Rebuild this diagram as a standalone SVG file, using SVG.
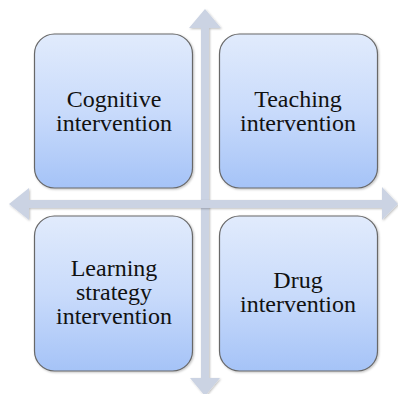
<svg xmlns="http://www.w3.org/2000/svg" width="398" height="394" viewBox="0 0 398 394">
<defs>
<linearGradient id="g" x1="0" y1="0" x2="0" y2="1">
<stop offset="0" stop-color="#e1ebfc"/>
<stop offset="0.5" stop-color="#c9dbfb"/>
<stop offset="1" stop-color="#a5c3f7"/>
</linearGradient>
<filter id="sh" x="-10%" y="-10%" width="120%" height="120%">
<feDropShadow dx="1" dy="1" stdDeviation="1.2" flood-color="#000" flood-opacity="0.25"/>
</filter>
</defs>
<style>
.box{fill:url(#g);stroke:#686868;stroke-width:1.2;filter:url(#sh)}
.arr{fill:#cbd3e3;filter:url(#sh)}
.t{font-family:"Liberation Serif","Times New Roman","DejaVu Serif",Tinos,serif;font-size:24px;fill:#111;text-anchor:middle}
</style>
<rect width="398" height="394" fill="#fff"/>
<g id="connectors">
<polygon class="arr" points="205,9 221,28 209,28 209,378 220,378 205,396 190,378 201,378 201,28 189,28"/>
<polygon class="arr" points="9,204 29,188 29,200 382,200 382,187 398,204 382,220 382,208 29,208 29,220"/>
</g>
<g id="cognitive">
<rect class="box" x="34.5" y="34" width="158" height="154" rx="20"/>
<text class="t" x="114" y="107">Cognitive</text>
<text class="t" x="114" y="131">intervention</text>
</g>
<g id="teaching">
<rect class="box" x="219.5" y="34" width="158" height="154" rx="20"/>
<text class="t" x="298" y="107">Teaching</text>
<text class="t" x="298" y="131">intervention</text>
</g>
<g id="learning">
<rect class="box" x="34.5" y="216" width="158" height="155" rx="20"/>
<text class="t" x="114" y="276">Learning</text>
<text class="t" x="114" y="300">strategy</text>
<text class="t" x="114" y="324">intervention</text>
</g>
<g id="drug">
<rect class="box" x="219.5" y="216" width="158" height="155" rx="20"/>
<text class="t" x="298" y="288">Drug</text>
<text class="t" x="298" y="312">intervention</text>
</g>
</svg>
